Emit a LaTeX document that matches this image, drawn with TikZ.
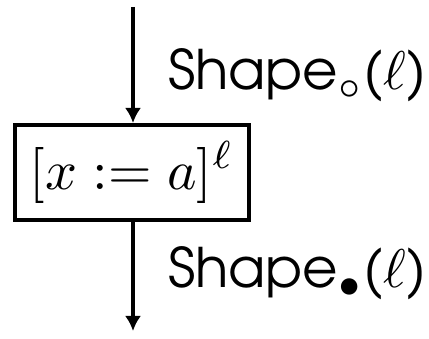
\documentclass[tikz,border=0pt]{standalone}
\usepackage{graphicx}
\usepackage{fontspec}
\newfontfamily\advfont{TeX Gyre Adventor}
\usetikzlibrary{arrows.meta}
\tikzset{
  flow/.style={line width=3.3pt,-{Latex[length=15pt,width=16pt]}},
  stmt/.style={draw,line width=4pt,rectangle,minimum width=234pt,minimum height=95pt,inner sep=0pt},
  lab/.style={anchor=base west,inner sep=0pt}
}
\begin{document}
\begin{tikzpicture}[x=1pt,y=1pt]
\useasboundingbox (0,0) rectangle (429,-339);
\coordinate (top) at (133,-7);
\node[stmt] (box) at (131.7,-172.5) {\scalebox{5.6}{$[x := a]^\ell$}};
\coordinate (bot) at (133,-331);
\draw[flow] (top) -- (top|-box.north);
\draw[flow] (box.south-|bot) -- (bot);
\node[lab] (in) at (168,-90) {\scalebox{5.45}{\advfont Shape$_\circ$($\ell$)}};
\node[lab] (out) at (168,-288) {\scalebox{5.45}{\advfont Shape$_\bullet$($\ell$)}};
\end{tikzpicture}
\end{document}
